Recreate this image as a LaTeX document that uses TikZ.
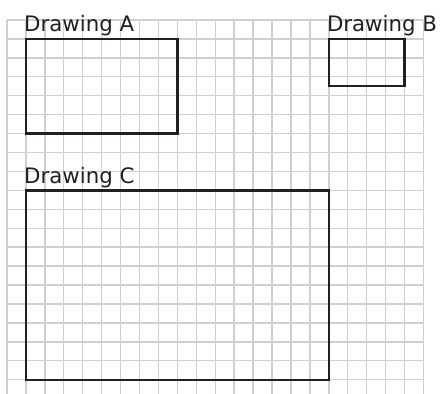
\documentclass[tikz,border=0pt]{standalone}
\usepackage{fontspec}
\setmainfont{DejaVu Sans}
\definecolor{gridgray}{RGB}{208,208,208}
\definecolor{boxdark}{RGB}{35,31,32}
\begin{document}
\begin{tikzpicture}[x=1pt,y=-1pt,
  gridline/.style={draw=gridgray,line width=1.4pt},
  drawbox/.style={draw=boxdark,line width=2.3pt},
  lbl/.style={anchor=base west,inner sep=0pt,font=\fontsize{21.3}{25}\selectfont,text=boxdark}]
\useasboundingbox[fill=white] (0,0) rectangle (440,394);
\def\gs{18.93}
\begin{scope}
\clip (0,0) rectangle (440,394);
\foreach \i in {0,...,22} {
  \draw[gridline] ({7+\i*\gs},20) -- ({7+\i*\gs},400);
}
\foreach \j in {0,...,19} {
  \draw[gridline] (7,{20+\j*\gs}) -- ({7+22*\gs},{20+\j*\gs});
}
\end{scope}
% Drawing A
\draw[drawbox] ({7+\gs},{20+\gs}) rectangle ({7+9*\gs},{20+6*\gs});
% Drawing B
\draw[drawbox] ({7+17*\gs},{20+\gs}) rectangle ({7+21*\gs},{20+3.5*\gs});
% Drawing C
\draw[drawbox] ({7+\gs},{20+9*\gs}) rectangle ({7+17*\gs},{20+19*\gs});
\node[lbl] (la) at (24,31.5) {Drawing A};
\node[lbl] (lb) at (326.8,31.5) {Drawing B};
\node[lbl] (lc) at (24,183.3) {Drawing C};
\end{tikzpicture}
\end{document}
